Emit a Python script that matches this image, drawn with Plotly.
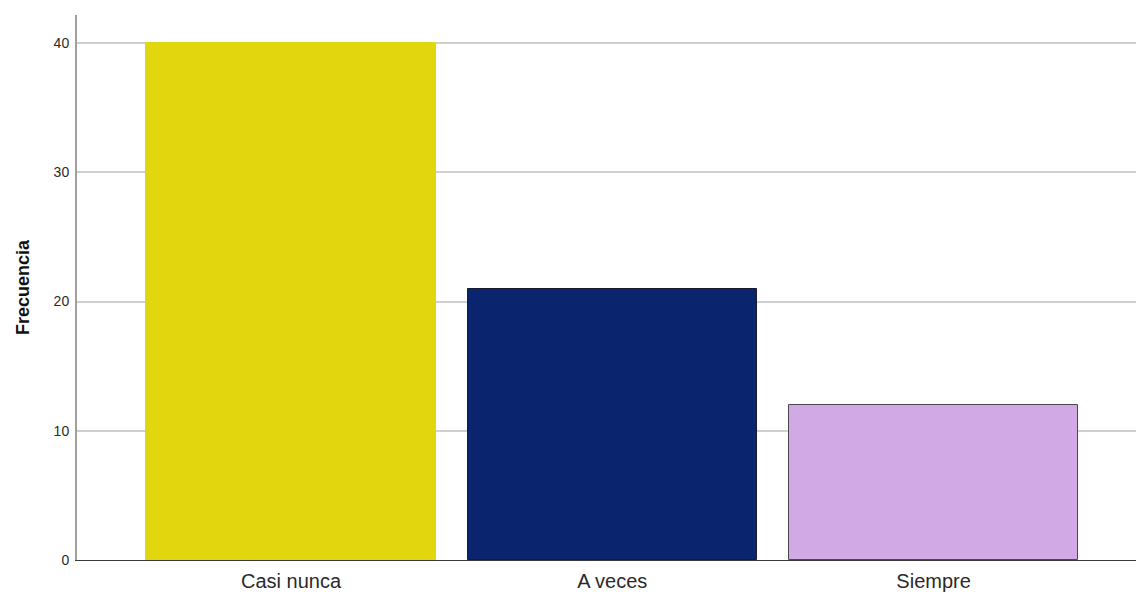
import plotly.graph_objects as go

categories = ["Casi nunca", "A veces", "Siempre"]
values = [40, 21, 12]
colors = ["#E2D70E", "#0A256E", "#D1A9E4"]
outlines = ["#E2D70E", "#1a1a2e", "#4a4a4a"]
y_ticks = [0, 10, 20, 30, 40]

fig = go.Figure()
fig.add_trace(go.Bar(
    x=list(range(len(categories))),
    y=values,
    width=0.900,
    marker=dict(color=colors, line=dict(color=outlines, width=1)),
    showlegend=False,
))

fig.update_layout(
    width=1136, height=592,
    margin=dict(l=77, r=0, t=15, b=32),
    paper_bgcolor="white", plot_bgcolor="white",
    font=dict(family="Liberation Sans, Arial, sans-serif", color="#2a2a2a"),
    xaxis=dict(
        range=[-0.666, 2.630],
        tickmode="array",
        tickvals=list(range(len(categories))),
        ticktext=categories,
        tickfont=dict(size=20, color="#2a2a2a"),
        showgrid=False, zeroline=False,
        showline=True, linecolor="#3a3a3a", linewidth=1,
        ticks="outside", ticklen=3, tickcolor="rgba(0,0,0,0)",
    ),
    yaxis=dict(
        range=[0, 42.17],
        tickmode="array",
        tickvals=y_ticks,
        tickfont=dict(size=14, color="#2a2a2a"),
        showgrid=True, gridcolor="#CFCFCF", gridwidth=2,
        zeroline=False,
        showline=True, linecolor="#A0A0A0", linewidth=2,
        ticks="outside", ticklen=3, tickcolor="rgba(0,0,0,0)",
        title=dict(text="<b>Frecuencia</b>", font=dict(size=18, color="#111111"), standoff=19),
    ),
    bargap=0,
)

fig.write_html(
    "out.html",
    config={"displayModeBar": False},
    post_script="document.body.style.margin='0';document.body.style.overflow='hidden';",
)
